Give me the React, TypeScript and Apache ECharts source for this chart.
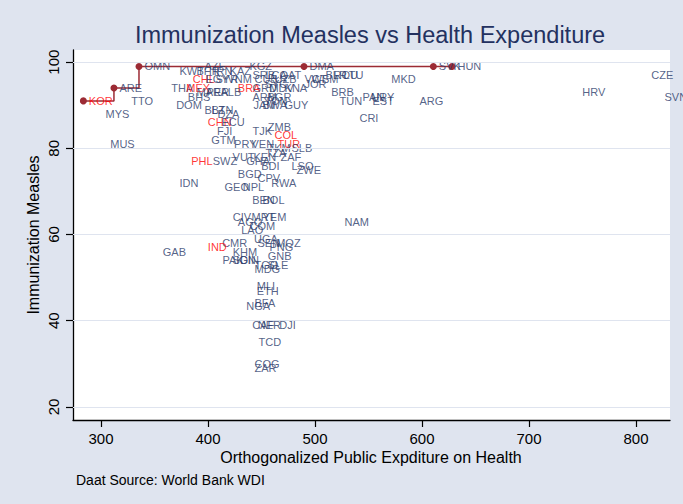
import React, { useEffect, useRef } from "react";
import * as echarts from "echarts";

const codes = [
  "KOR","ARE","OMN","DMA","SVK","HUN","MYS","TTO","MUS","GAB","IDN","PHL","THA","KWT","DOM","BHS","MEX","CHL","MAR","PER",
  "AZE","KGZ","BHR","IRN","KAZ","SRB","LCA","QAT","BLR","ROU","LTU","VCT","WSM","JOR","MKD","BRB","TUN","PAN","URY","EST",
  "CRI","ARG","HRV","CZE","SVN","EGY","SYR","VNM","BRA","ALB","CUB","SYC","UZB","MDV","GRD","KNA","ARM","BGR","JAM","BWA",
  "TON","GUY","BLZ","BTN","DZA","CHN","ECU","FJI","GTM","PRY","TJK","VEN","ZMB","COL","TUR","TKM","SLB","SWZ","VUT","KEN",
  "TZA","ZAF","GHA","BDI","LSO","ZWE","BGD","CPV","RWA","GEO","NPL","BEN","BOL","CIV","MRT","YEM","AGO","COM","LAO","NAM",
  "UGA","SEN","MOZ","PNG","CMR","IND","KHM","PAK","SDN","GNB","GIN","TGO","SLE","MDG","MLI","ETH","BFA","NGA","CAF","NER",
  "DJI","TCD","COG","ZAR"
];
const expenditure = [
  283.5,312.1,335.5,489.7,610.6,628.0,299.1,323.1,303.5,352.6,368.2,379.2,360.5,368.2,365.1,376.0,374.5,380.7,384.1,393.5,
  391.6,433.6,384.1,400.0,415.0,436.4,448.6,461.7,504.7,512.1,521.5,485.0,491.6,485.0,566.1,510.0,517.8,539.3,547.4,548.6,
  536.4,592.5,744.6,809.1,821.5,392.5,401.9,413.1,422.7,406.5,438.3,447.7,457.0,452.3,436.4,466.4,436.4,450.5,437.4,445.8,
  447.7,466.4,391.6,398.1,403.7,394.7,407.5,403.3,397.9,419.2,436.4,435.5,450.7,457.0,459.8,450.5,472.9,399.3,417.8,437.4,
  448.6,462.6,430.6,444.6,472.9,477.6,422.7,441.1,453.9,410.3,427.4,436.1,445.8,418.0,435.5,445.8,422.7,433.6,425.9,522.4,
  437.9,441.1,458.6,452.3,408.1,394.7,418.0,408.4,417.8,450.7,424.3,438.3,450.5,438.3,440.4,440.4,438.3,430.6,436.1,441.3,
  461.4,442.1,438.3,438.3
];
const measles = [
  91,94,99,99,99,99,88,91,81,56,72,77,94,98,90,92,94,96,93,93,
  99,99,98,98,98,97,97,97,97,97,97,96,96,95,96,93,91,92,92,91,
  87,91,93,97,92,96,96,96,94,93,96,95,96,94,94,94,92,92,90,90,
  91,90,89,89,88,86,86,84,82,81,84,81,85,83,81,80,80,77,78,78,
  79,78,77,76,76,75,74,73,72,71,71,68,68,64,64,64,63,62,61,63,
  59,58,58,57,58,57,56,54,54,55,54,53,53,52,48,47,44,43.5,39,39,
  39,35,30,29
];
const highlighted = ["KOR","MEX","CHL","BRA","CHN","PHL","IND","COL","TUR"];
const frontier = ["KOR","ARE","OMN","DMA","SVK","HUN"];
const xTicks = [300, 400, 500, 600, 700, 800];
const yTicks = [20, 40, 60, 80, 100];

const FONT = "'Liberation Sans', Arial, sans-serif";
const NAVY = "#2a3969";

export default function App() {
  const ref = useRef<HTMLDivElement>(null);
  useEffect(() => {
    if (!ref.current) return;
    const chart = echarts.init(ref.current, null, { renderer: "svg" });
    const points = codes.map((c, i) => ({
      name: c,
      value: [expenditure[i], measles[i]],
      label: { color: highlighted.includes(c) ? "#ff0000" : NAVY },
    }));
    const frontierData = frontier.map((c) => {
      const i = codes.indexOf(c);
      return [expenditure[i], measles[i]];
    });
    chart.setOption({
      animation: false,
      backgroundColor: "#dfe4ef",
      grid: {
        left: 73, top: 50, width: 597, height: 370,
        show: true, backgroundColor: "#ffffff", borderWidth: 0,
      },
      xAxis: {
        type: "value", min: 273.83, max: 831.78,
        axisLine: { show: true, onZero: false, lineStyle: { color: "#000", width: 1.3 } },
        axisTick: { show: true, customValues: xTicks, length: 7, lineStyle: { color: "#000", width: 1.2 } },
        axisLabel: { customValues: xTicks, color: "#000", fontSize: 15, fontFamily: FONT, margin: 11 },
        splitLine: { show: false },
      },
      yAxis: {
        type: "value", min: 16.96, max: 102.81,
        axisLine: { show: true, onZero: false, lineStyle: { color: "#000", width: 1.3 } },
        axisTick: { show: true, customValues: yTicks, length: 7, lineStyle: { color: "#000", width: 1.2 } },
        axisLabel: { customValues: yTicks, color: "#000", fontSize: 15, fontFamily: FONT, rotate: 90, margin: 12 },
        splitLine: { show: false },
      },
      graphic: [
        { type: "text", x: 370, y: 35, style: { text: "Immunization Measles vs Health Expenditure", fill: "#233160", font: `23.5px ${FONT}`, textAlign: "center", textVerticalAlign: "middle" } },
        { type: "text", x: 33, y: 235, rotation: Math.PI / 2, style: { text: "Immunization Measles", fill: "#000", font: `16px ${FONT}`, textAlign: "center", textVerticalAlign: "middle" } },
        { type: "text", x: 371, y: 457, style: { text: "Orthogonalized Public Expditure on Health", fill: "#000", font: `16px ${FONT}`, textAlign: "center", textVerticalAlign: "middle" } },
        { type: "text", x: 76, y: 480, style: { text: "Daat Source: World Bank WDI", fill: "#000", font: `14px ${FONT}`, textAlign: "left", textVerticalAlign: "middle" } },
      ],
      series: [
        {
          type: "scatter",
          data: points,
          symbolSize: 1,
          itemStyle: { color: "rgba(0,0,0,0)" },
          label: { show: true, position: "right", distance: 5, formatter: "{b}", fontSize: 11, fontFamily: FONT },
          markLine: {
            silent: true, symbol: "none", label: { show: false },
            lineStyle: { color: "#dfe4ef", width: 1.2, type: "solid" },
            data: yTicks.map((v) => ({ yAxis: v })),
          },
          z: 3,
        },
        {
          type: "line",
          data: frontierData,
          step: "end",
          symbol: "circle",
          symbolSize: 7,
          itemStyle: { color: "#9c2b34" },
          lineStyle: { color: "#9c2b34", width: 1.5 },
          z: 2,
        },
      ],
    });
    return () => chart.dispose();
  }, []);
  return <div ref={ref} style={{ position: "fixed", left: 0, top: 0, width: 683, height: 504 }} />;
}
